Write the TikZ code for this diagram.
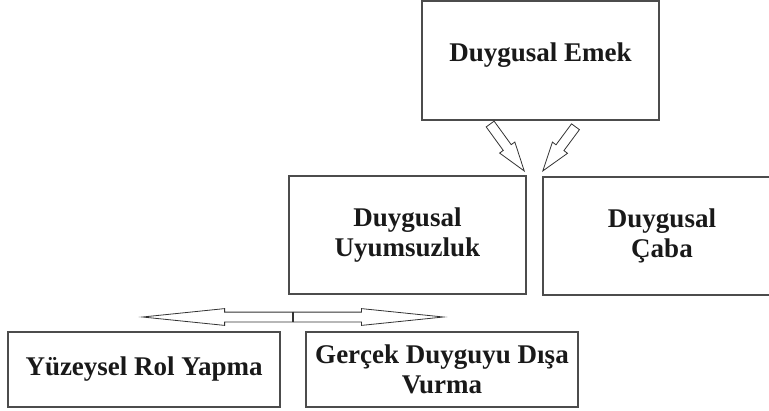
\documentclass[tikz,border=0pt]{standalone}
\usepackage{fontspec}
\setmainfont{Liberation Serif}
\usetikzlibrary{shapes.arrows}

\begin{document}
\begin{tikzpicture}[x=1pt, y=-1pt,
    box/.style={draw=black!70, line width=1.3pt, align=center, inner sep=0pt,
        text=black!90, font=\fontsize{27pt}{30pt}\selectfont\bfseries},
    hollow/.style={single arrow, draw=black!80, line width=0.8pt, fill=white,
        inner xsep=0pt, inner ysep=4.5pt, single arrow head indent=0pt}]
    \useasboundingbox (0,0) rectangle (769,410);

    \node[box, minimum width=237pt, minimum height=119pt, text depth=17pt] (emek) at (540.5,60.5) {Duygusal Emek};
    \node[box, minimum width=237pt, minimum height=118pt] (uyum) at (407.5,235) {Duygusal\\Uyumsuzluk};
    \node[box, minimum width=238pt, minimum height=118pt] (caba) at (662,236) {Duygusal\\Çaba};
    \node[box, minimum width=272pt, minimum height=75pt] (yuzey) at (144,369.5) {Yüzeysel Rol Yapma};
    \node[box, minimum width=272pt, minimum height=75pt] (gercek) at (442,369.5) {Gerçek Duyguyu Dışa\\Vurma};

    \node[hollow, minimum height=58pt, single arrow head extend=4.5pt, single arrow tip angle=36, rotate=-54, anchor=tip] (toUyum) at (525,172) {};
    \node[hollow, minimum height=55pt, single arrow head extend=4.5pt, single arrow tip angle=36, rotate=-126.5, anchor=tip] (toCaba) at (542,172) {};

    \coordinate (split) at (293,317);
    \node[hollow, minimum height=150pt, single arrow head extend=3.5pt, single arrow tip angle=11.7, rotate=180, anchor=tail] (toYuzey) at (split) {};
    \node[hollow, minimum height=150pt, single arrow head extend=3.5pt, single arrow tip angle=11.7, anchor=tail] (toGercek) at (split) {};
\end{tikzpicture}
\end{document}
